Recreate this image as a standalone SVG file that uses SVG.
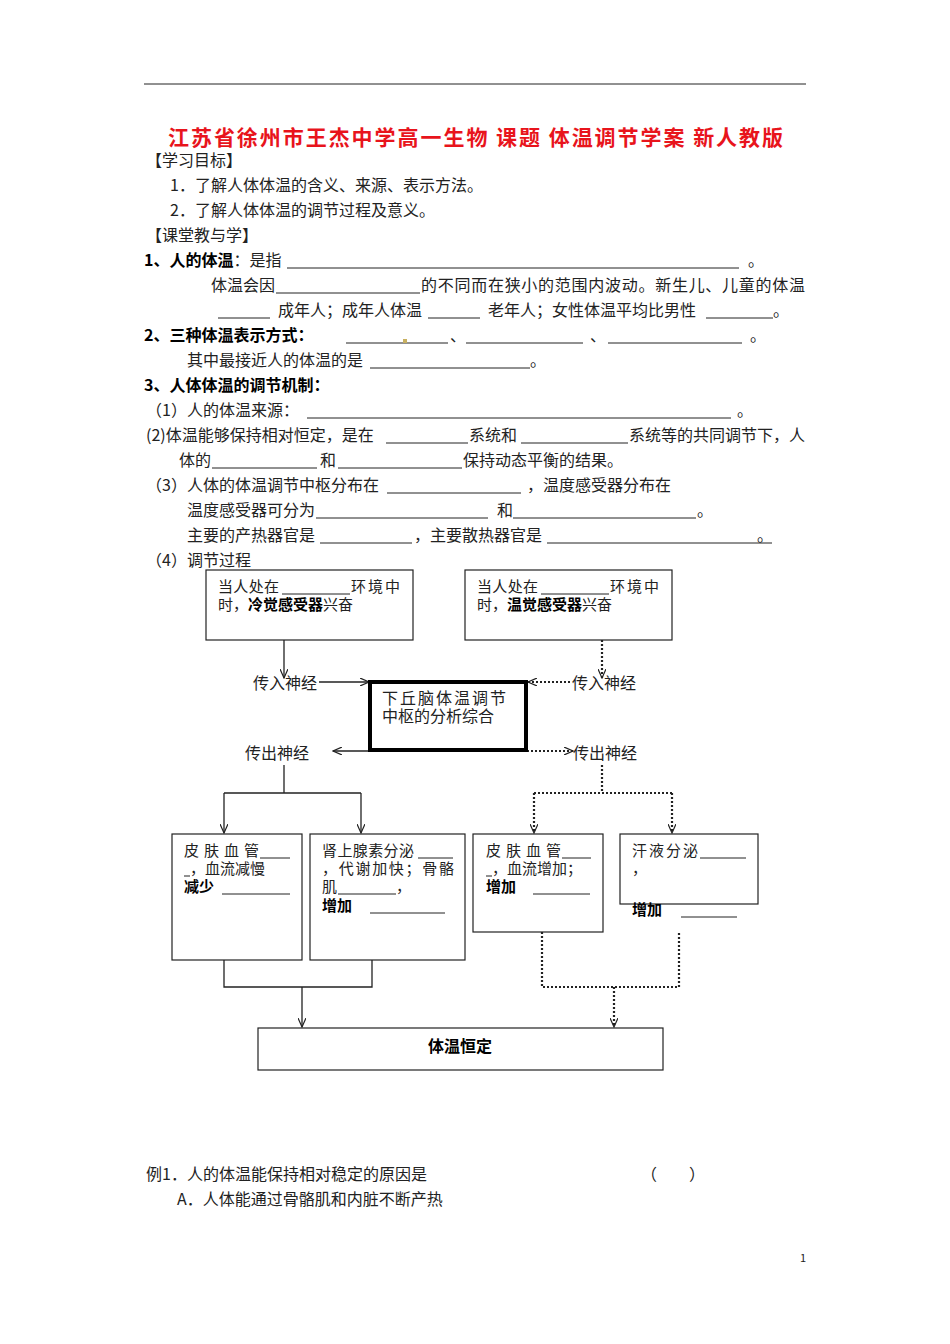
<svg xmlns="http://www.w3.org/2000/svg" width="950" height="1344" viewBox="0 0 950 1344">
<style>
text{font-family:"Noto Sans CJK SC","Liberation Serif",sans-serif;font-size:16px;fill:#222}
.s{font-size:15px}
.b{font-weight:bold;fill:#000}
.t{font-size:21px;font-weight:bold;fill:#e8141c}
.u{stroke:#222;stroke-width:1}
.box{fill:#fff;stroke:#222;stroke-width:1.2}
.c{fill:none;stroke:#222;stroke-width:1.3}
.d{fill:none;stroke:#222;stroke-width:2.2;stroke-dasharray:2,2}
</style>
<defs>
<marker id="a" viewBox="0 0 10 8" refX="9" refY="4" markerWidth="10" markerHeight="8" markerUnits="userSpaceOnUse" orient="auto"><path d="M0,0 L9,4 L0,8" fill="none" stroke="#222" stroke-width="1.2"/></marker>
</defs>
<rect width="950" height="1344" fill="#fff"/>
<line x1="144" y1="84" x2="806" y2="84" stroke="#222" stroke-width="1"/>
<text x="168" y="145" class="t" textLength="615" lengthAdjust="spacing">江苏省徐州市王杰中学高一生物 课题 体温调节学案 新人教版</text>
<text x="146" y="166">【学习目标】</text>
<text x="170" y="191">1．了解人体体温的含义、来源、表示方法。</text>
<text x="170" y="216">2．了解人体体温的调节过程及意义。</text>
<text x="146" y="241">【课堂教与学】</text>
<text x="144" y="266"><tspan class="b">1、人的体温</tspan>：是指</text>
<line class="u" x1="287" y1="268" x2="739" y2="268"/><text x="748" y="266">。</text>
<text x="211" y="291">体温会因</text><line class="u" x1="276" y1="293" x2="420" y2="293"/>
<text x="421" y="291" textLength="384" lengthAdjust="spacing">的不同而在狭小的范围内波动。新生儿、儿童的体温</text>
<line class="u" x1="218" y1="318" x2="270" y2="318"/><text x="278" y="316">成年人；成年人体温</text>
<line class="u" x1="428" y1="318" x2="480" y2="318"/><text x="488" y="316">老年人；女性体温平均比男性</text>
<line class="u" x1="706" y1="318" x2="773" y2="318"/><text x="773" y="316">。</text>
<text x="144" y="341" class="b">2、三种体温表示方式：</text>
<line class="u" x1="346" y1="343" x2="448" y2="343"/><rect x="403" y="339" width="4" height="4" fill="#c8b060"/>
<text x="450" y="341">、</text><line class="u" x1="466" y1="343" x2="583" y2="343"/>
<text x="590" y="341">、</text><line class="u" x1="608" y1="343" x2="742" y2="343"/><text x="750" y="341">。</text>
<text x="187" y="366">其中最接近人的体温的是</text><line class="u" x1="370" y1="368" x2="530" y2="368"/><text x="530" y="366">。</text>
<text x="144" y="391" class="b">3、人体体温的调节机制：</text>
<text x="146" y="416">（1）人的体温来源：</text><line class="u" x1="307" y1="418" x2="731" y2="418"/><text x="737" y="416">。</text>
<text x="146" y="441">(2)体温能够保持相对恒定，是在</text><line class="u" x1="386" y1="443" x2="468" y2="443"/>
<text x="469" y="441">系统和</text><line class="u" x1="521" y1="443" x2="628" y2="443"/><text x="629" y="441" textLength="176" lengthAdjust="spacing">系统等的共同调节下，人</text>
<text x="179" y="466">体的</text><line class="u" x1="212" y1="468" x2="317" y2="468"/><text x="320" y="466">和</text>
<line class="u" x1="338" y1="468" x2="462" y2="468"/><text x="463" y="466">保持动态平衡的结果。</text>
<text x="146" y="491">（3）人体的体温调节中枢分布在</text><line class="u" x1="387" y1="493" x2="521" y2="493"/>
<text x="527" y="491">，温度感受器分布在</text>
<text x="187" y="516">温度感受器可分为</text><line class="u" x1="316" y1="518" x2="488" y2="518"/><text x="497" y="516">和</text>
<line class="u" x1="513" y1="518" x2="696" y2="518"/><text x="697" y="516">。</text>
<text x="187" y="541">主要的产热器官是</text><line class="u" x1="320" y1="543" x2="412" y2="543"/><text x="414" y="541">，主要散热器官是</text>
<line class="u" x1="547" y1="543" x2="772" y2="543"/><text x="757" y="541">。</text>
<text x="146" y="566">（4）调节过程</text>

<g id="connectors">
<path class="c" d="M284,640 V678" marker-end="url(#a)"/>
<path class="c" d="M319,682 H369" marker-end="url(#a)"/>
<path class="d" d="M602,640 V678" marker-end="url(#a)"/>
<path class="d" d="M570,682 H528" marker-end="url(#a)"/>
<path class="c" d="M370,751 H333" marker-end="url(#a)"/>
<path class="d" d="M527,751 H573" marker-end="url(#a)"/>
<path class="c" d="M284,765 V793 M224,793 H361"/>
<path class="c" d="M224,793 V833" marker-end="url(#a)"/>
<path class="c" d="M361,793 V833" marker-end="url(#a)"/>
<path class="d" d="M602,765 V793 M534,793 H672"/>
<path class="d" d="M534,793 V833" marker-end="url(#a)"/>
<path class="d" d="M672,793 V833" marker-end="url(#a)"/>
<path class="c" d="M224,960 V987 H372 V960 M302,987 V1027" marker-end="url(#a)"/>
<path class="d" d="M542,932 V987 H679 V932"/>
<path class="d" d="M614,987 V1027" marker-end="url(#a)"/>
</g>

<g id="n1"><rect class="box" x="206" y="570" width="207" height="70"/>
<text class="s" x="218" y="592" textLength="61">当人处在</text><line class="u" x1="282" y1="594" x2="350" y2="594"/><text class="s" x="351" y="592" textLength="49">环境中</text>
<text class="s" x="218" y="610">时，<tspan class="b">冷觉感受器</tspan>兴奋</text></g>
<g id="n2"><rect class="box" x="465" y="570" width="207" height="70"/>
<text class="s" x="477" y="592" textLength="61">当人处在</text><line class="u" x1="541" y1="594" x2="609" y2="594"/><text class="s" x="610" y="592" textLength="49">环境中</text>
<text class="s" x="477" y="610">时，<tspan class="b">温觉感受器</tspan>兴奋</text></g>
<text x="253" y="689">传入神经</text>
<text x="572" y="689">传入神经</text>
<g id="center"><rect x="370" y="682" width="156" height="68" fill="#fff" stroke="#000" stroke-width="4"/>
<text x="382" y="704" letter-spacing="2">下丘脑体温调节</text>
<text x="382" y="722">中枢的分析综合</text></g>
<text x="245" y="759">传出神经</text>
<text x="573" y="759">传出神经</text>
<g id="nA"><rect class="box" x="172" y="834" width="130" height="126"/>
<text class="s" x="184" y="856" letter-spacing="5">皮肤血管</text><line class="u" x1="260" y1="858" x2="290" y2="858"/>
<line class="u" x1="184" y1="876" x2="190" y2="876"/><text class="s" x="190" y="874">，血流减慢</text>
<text class="s b" x="184" y="892">减少</text><line class="u" x1="222" y1="894" x2="290" y2="894"/></g>
<g id="nB"><rect class="box" x="310" y="834" width="155" height="126"/>
<text class="s" x="322" y="856" textLength="92">肾上腺素分泌</text><line class="u" x1="418" y1="858" x2="453" y2="858"/>
<text class="s" x="322" y="874" textLength="132">，代谢加快；骨骼</text>
<text class="s" x="322" y="892">肌</text><line class="u" x1="338" y1="894" x2="396" y2="894"/><text class="s" x="396" y="892">，</text>
<text class="s b" x="322" y="911">增加</text><line class="u" x1="370" y1="913" x2="445" y2="913"/></g>
<g id="nC"><rect class="box" x="473" y="834" width="130" height="98"/>
<text class="s" x="486" y="856" letter-spacing="5">皮肤血管</text><line class="u" x1="562" y1="858" x2="591" y2="858"/>
<line class="u" x1="486" y1="876" x2="492" y2="876"/><text class="s" x="492" y="874">，血流增加；</text>
<text class="s b" x="486" y="892">增加</text><line class="u" x1="533" y1="894" x2="590" y2="894"/></g>
<g id="nD"><rect class="box" x="620" y="834" width="138" height="70"/>
<text class="s" x="632" y="856" textLength="66">汗液分泌</text><line class="u" x1="700" y1="858" x2="746" y2="858"/>
<text class="s" x="632" y="874">，</text>
<text class="s b" x="632" y="915">增加</text><line class="u" x1="681" y1="917" x2="737" y2="917"/></g>
<g id="nE"><rect class="box" x="258" y="1028" width="405" height="42"/>
<text x="460" y="1052" class="b" text-anchor="middle">体温恒定</text></g>

<text x="146" y="1180">例1．人的体温能保持相对稳定的原因是</text>
<text x="641" y="1180">（　　）</text>
<text x="177" y="1205">A．人体能通过骨骼肌和内脏不断产热</text>
<text x="800" y="1262" style="font-size:11px">1</text>
</svg>
